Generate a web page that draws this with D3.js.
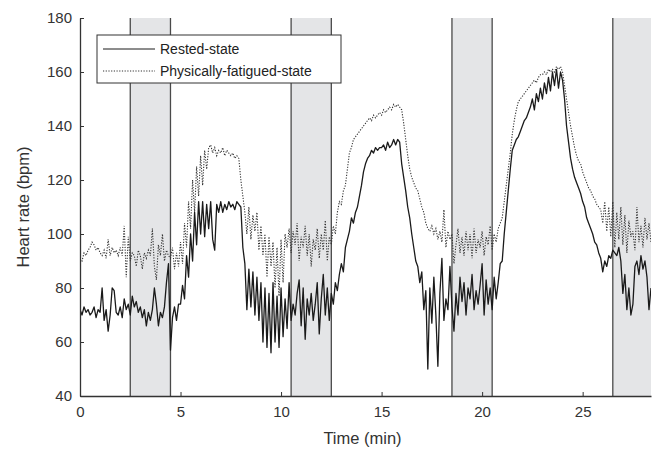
<!DOCTYPE html>
<html>
<head>
<meta charset="utf-8">
<script src="https://cdn.jsdelivr.net/npm/d3@7/dist/d3.min.js"></script>
<style>
  body { margin: 0; background: #fff; }
  svg { display: block; font-family: "Liberation Sans", Arial, sans-serif; }
</style>
</head>
<body>
<div id="chart"></div>
<script>
const step = 0.1;

const rested = [
  72, 70, 73, 71, 72, 70, 71, 73, 69, 72,
  71, 80, 68, 72, 64, 70, 80, 79, 71, 70,
  73, 69, 76, 72, 74, 70, 77, 73, 75, 71,
  73, 69, 72, 66, 71, 68, 72, 80, 74, 66,
  71, 69, 73, 82, 89, 57, 69, 73, 68, 74,
  74, 81, 76, 92, 84, 100, 90, 108, 96, 112,
  100, 112, 99, 111, 102, 112, 98, 94, 111, 108,
  112, 108, 111, 109, 112, 110, 111, 109, 112, 111,
  110, 95, 89, 72, 87, 73, 86, 70, 84, 68,
  82, 60, 80, 58, 78, 56, 82, 60, 77, 58,
  80, 62, 76, 65, 82, 68, 74, 70, 78, 83,
  66, 80, 61, 76, 70, 78, 68, 74, 82, 63,
  76, 85, 70, 80, 68, 78, 74, 82, 79, 85,
  89, 86, 95, 98, 101, 106, 104, 108, 110, 114,
  118, 123, 126, 128, 129, 131, 130, 132, 131, 132,
  132, 133, 131, 134, 132, 133, 135, 133, 135, 134,
  126, 121, 116, 110, 106, 100, 95, 90, 88, 82,
  86, 72, 79, 50, 80, 67, 84, 70, 51, 78,
  91, 68, 76, 72, 88, 73, 64, 78, 70, 84,
  75, 82, 70, 80, 76, 85, 72, 79, 74, 81,
  89, 70, 83, 74, 80, 72, 84, 76, 82, 89,
  90, 100, 108, 116, 124, 131, 133, 135, 136, 138,
  140, 142, 143, 145, 147, 150, 146, 152, 149, 154,
  150, 156, 152, 158, 153, 160, 155, 161, 154, 160,
  157, 150, 140, 134, 128, 124, 121, 119, 117, 115,
  112, 110, 106, 104, 102, 100, 97, 96, 93, 91,
  86, 90, 88, 92, 91, 94, 93, 92, 95, 90,
  78, 85, 72, 80, 70, 74, 88, 90, 85, 92,
  87, 90, 84, 72, 80
];

const fatigued = [
  91, 90, 93, 92, 94, 95, 97, 96, 94, 95,
  93, 92, 94, 91, 98, 92, 95, 93, 94, 92,
  95, 92, 103, 84, 99, 90, 93, 92, 88, 94,
  92, 87, 93, 91, 94, 92, 102, 88, 83, 96,
  92, 100, 90, 94, 92, 91, 95, 87, 93, 88,
  97, 89, 104, 95, 112, 102, 120, 108, 125, 114,
  129, 118, 131, 124, 132, 133, 130, 132, 129, 131,
  130, 132, 129, 131, 130, 129, 130, 128, 129, 128,
  120, 114, 108, 100, 110, 98, 107, 101, 108, 94,
  103, 92, 100, 84, 99, 88, 97, 80, 95, 77,
  98, 82, 100, 95, 102, 93, 101, 96, 104, 90,
  99, 95, 103, 92, 100, 88, 98, 94, 102, 91,
  100, 94, 105, 90, 99, 96, 103, 100, 108, 112,
  111, 116, 118, 124, 130, 132, 135, 136, 137, 138,
  139, 140, 141, 142, 143, 142, 144, 143, 144, 145,
  144, 146, 145, 146, 147, 146, 148, 147, 148, 147,
  146, 141, 135, 129, 124, 121, 119, 117, 116, 113,
  110, 108, 104, 102, 101, 103, 100, 102, 98, 101,
  97, 109, 95, 101, 98, 100, 89, 96, 102, 93,
  99, 92, 101, 94, 100, 91, 102, 93, 98, 95,
  101, 92, 99, 96, 103, 94, 100, 97, 102, 104,
  106, 112, 118, 124, 130, 137, 142, 146, 149, 150,
  151, 152, 153, 154, 155, 156, 157, 156, 158, 159,
  159, 160, 159, 161, 160, 161, 160, 162, 161, 162,
  160, 155, 150, 145, 140, 136, 132, 129, 127, 126,
  123, 121, 119, 117, 116, 114, 113, 111, 110, 109,
  104, 112, 101, 110, 99, 112, 95, 108, 98, 110,
  96, 107, 93, 105, 99, 101, 94, 110, 97, 103,
  95, 106, 98, 104, 97
];

// shaded task periods (min)
const bandStart = [2.5, 10.5, 18.5, 26.5];
const bandEnd   = [4.5, 12.5, 20.5, 28.5];

const xTicks = [0, 5, 10, 15, 20, 25];
const yTicks = [40, 60, 80, 100, 120, 140, 160, 180];

const seriesNames = ['Rested-state', 'Physically-fatigued-state'];

// ---- layout
const W = 653, H = 453;
const m = { left: 80, right: 2, top: 18, bottom: 57 };
const iw = W - m.left - m.right, ih = H - m.top - m.bottom;

const svg = d3.select('#chart').append('svg')
  .attr('width', W).attr('height', H);

svg.append('defs').append('clipPath').attr('id', 'clip')
  .append('rect').attr('x', 0).attr('y', 0).attr('width', iw).attr('height', ih);

const g = svg.append('g').attr('transform', `translate(${m.left},${m.top})`);

const x = d3.scaleLinear().domain([0, 28.4]).range([0, iw]);
const y = d3.scaleLinear().domain([40, 180]).range([ih, 0]);

// bands
const bands = g.append('g').attr('clip-path', 'url(#clip)');
bandStart.forEach((s, i) => {
  bands.append('rect')
    .attr('x', x(s)).attr('y', 0)
    .attr('width', x(bandEnd[i]) - x(s)).attr('height', ih)
    .attr('fill', '#e4e5e7');
  [s, bandEnd[i]].forEach(v => {
    bands.append('line')
      .attr('x1', x(v)).attr('x2', x(v)).attr('y1', 0).attr('y2', ih)
      .attr('stroke', '#4a4a4a').attr('stroke-width', 1.3);
  });
});

// series
const line = d3.line()
  .x((d, i) => x(i * step))
  .y(d => y(d));

const plot = g.append('g').attr('clip-path', 'url(#clip)');

plot.append('path')
  .datum(fatigued)
  .attr('d', line)
  .attr('fill', 'none')
  .attr('stroke', '#333')
  .attr('stroke-width', 1.1)
  .attr('stroke-dasharray', '1.2,1.5');

plot.append('path')
  .datum(rested)
  .attr('d', line)
  .attr('fill', 'none')
  .attr('stroke', '#1a1a1a')
  .attr('stroke-width', 1.3)
  .attr('stroke-linejoin', 'round');

// axes
const xAxis = d3.axisBottom(x).tickValues(xTicks).tickSizeInner(-4).tickSizeOuter(0).tickPadding(10);
const yAxis = d3.axisLeft(y).tickValues(yTicks).tickSizeInner(-4).tickSizeOuter(0).tickPadding(8);

const gx = g.append('g').attr('transform', `translate(0,${ih})`).call(xAxis);
const gy = g.append('g').call(yAxis);

[gx, gy].forEach(a => {
  a.select('.domain').attr('stroke', '#333').attr('stroke-width', 1.3);
  a.selectAll('.tick line').attr('stroke', '#333');
  a.selectAll('.tick text').attr('fill', '#333').style('font-size', '15px');
});

svg.append('text')
  .attr('x', m.left + iw / 2 - 3).attr('y', 444)
  .attr('text-anchor', 'middle')
  .attr('fill', '#333')
  .style('font-size', '16.5px')
  .text('Time (min)');

svg.append('text')
  .attr('transform', `translate(29,${m.top + ih / 2}) rotate(-90)`)
  .attr('text-anchor', 'middle')
  .attr('fill', '#333')
  .style('font-size', '16.5px')
  .text('Heart rate (bpm)');

// legend
const lg = svg.append('g').attr('transform', 'translate(97,35)');
lg.append('rect')
  .attr('width', 244).attr('height', 48)
  .attr('fill', '#fff').attr('stroke', '#333').attr('stroke-width', 1);

seriesNames.forEach((name, i) => {
  const ly = 14 + i * 22;
  lg.append('line')
    .attr('x1', 6).attr('x2', 58).attr('y1', ly).attr('y2', ly)
    .attr('stroke', i === 0 ? '#1a1a1a' : '#333')
    .attr('stroke-width', 1)
    .attr('stroke-dasharray', i === 0 ? null : '1.2,1.5');
  lg.append('text')
    .attr('x', 63).attr('y', ly + 5)
    .attr('fill', '#222')
    .style('font-size', '14px')
    .text(name);
});
</script>
</body>
</html>
